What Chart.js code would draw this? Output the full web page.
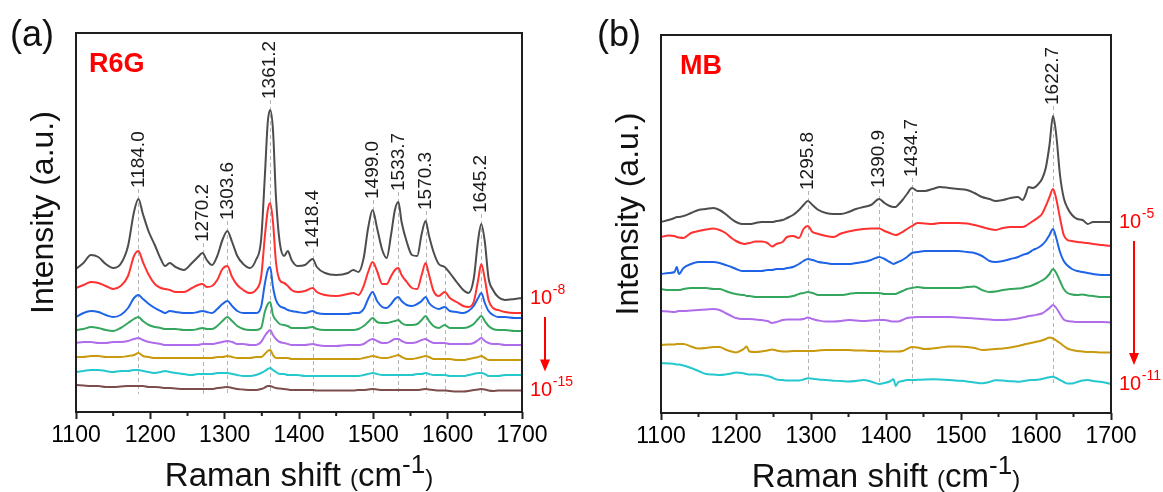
<!DOCTYPE html>
<html>
<head>
<meta charset="utf-8">
<title>SERS spectra - R6G / MB</title>
<script src="https://cdn.jsdelivr.net/npm/chart.js@4.4.1/dist/chart.umd.min.js"></script>
<style>
  html, body { margin: 0; padding: 0; background: #fff; }
  .panel { position: absolute; top: 0; }
  #panelA { left: 0; }
  #panelB { left: 590px; }
</style>
</head>
<body>
<div class="panel" id="panelA"><canvas id="chartA" width="590" height="492"></canvas></div>
<div class="panel" id="panelB"><canvas id="chartB" width="573" height="492"></canvas></div>
<script>
const FONT = "'Liberation Sans', Arial, Helvetica, sans-serif";
Chart.defaults.font.family = FONT;

// ---- R6G, 1e-8 .. 1e-15 M (offset traces, a.u.) ----
const shiftR6G = [
  1100, 1110, 1120, 1130, 1140, 1150, 1160, 1170, 1178, 1184.0,
  1190, 1198, 1206, 1214, 1220, 1226, 1234, 1245, 1256, 1264,
  1270.2, 1276, 1283, 1290, 1297, 1303.6, 1310, 1317, 1325, 1334,
  1342, 1349, 1354, 1358, 1361.2, 1365, 1369, 1374, 1380, 1385,
  1390, 1398, 1408, 1418.4, 1424, 1435, 1450, 1466, 1473, 1480,
  1487, 1493, 1499.0, 1505, 1512, 1518, 1524, 1529, 1533.7, 1538,
  1545, 1552, 1559, 1565, 1570.3, 1575, 1581, 1588, 1596, 1603,
  1612, 1621, 1628, 1635, 1641, 1645.2, 1650, 1655, 1661, 1668,
  1677, 1690, 1700
];
const r6g_1e8 = [
  143, 149, 157, 155, 148, 144, 148, 166, 200, 213,
  198, 180, 167, 153, 146, 149, 145, 142, 149, 155,
  159, 152, 147, 156, 172, 181, 170, 156, 148, 144,
  152, 172, 235, 290, 302, 282, 215, 170, 156, 161,
  152, 146, 147, 153, 145, 139, 137, 139, 142, 140,
  154, 184, 202, 184, 162, 154, 178, 202, 210, 190,
  170, 157, 156, 178, 191, 176, 160, 148, 145, 139,
  130, 122, 119, 133, 172, 188, 170, 134, 122, 115,
  112, 113, 114
];
const r6g_1e9 = [
  124, 127, 130, 129, 126, 123, 126, 136, 156, 161,
  150, 137, 128, 124, 123, 122, 120, 120, 124, 127,
  128, 125, 126, 132, 143, 146, 135, 127, 122, 119,
  122, 135, 175, 202, 209, 190, 150, 132, 129, 126,
  122, 120, 121, 124, 120, 117, 116, 118, 119, 117,
  126, 140, 150, 141, 128, 128, 136, 142, 144, 137,
  130, 124, 123, 137, 149, 137, 121, 116, 120, 114,
  110, 106, 105, 110, 132, 148, 133, 112, 104, 102,
  100, 99, 99
];
const r6g_1e10 = [
  95, 99, 101, 100, 97, 95, 97, 104, 114, 117,
  113, 108, 104, 101, 99, 101, 100, 99, 99, 100,
  101, 100, 99, 103, 108, 111, 106, 101, 99, 99,
  99, 105, 128, 142, 145, 125, 112, 106, 104, 102,
  101, 100, 99, 101, 99, 98, 98, 98, 99, 99,
  103, 113, 120, 111, 105, 104, 108, 113, 115, 111,
  107, 106, 108, 111, 115, 109, 105, 103, 105, 101,
  100, 99, 101, 106, 114, 119, 109, 101, 97, 95,
  95, 94, 94
];
const r6g_1e11 = [
  82, 83, 85, 84, 82, 81, 84, 89, 93, 95,
  91, 87, 85, 84, 83, 83, 83, 82, 82, 83,
  84, 83, 83, 86, 91, 95, 91, 86, 83, 82,
  82, 84, 100, 108, 110, 97, 92, 88, 87, 86,
  84, 84, 84, 85, 83, 82, 82, 82, 82, 83,
  86, 90, 94, 90, 89, 89, 90, 91, 92, 89,
  87, 87, 88, 92, 96, 91, 86, 84, 87, 84,
  84, 84, 85, 88, 93, 96, 91, 86, 83, 82,
  82, 81, 81
];
const r6g_1e12 = [
  69, 70, 70, 69, 69, 70, 70, 71, 73, 74,
  72, 70, 69, 68, 67, 67, 67, 67, 67, 67,
  68, 68, 68, 69, 70, 71, 70, 68, 68, 67,
  67, 70, 76, 80, 82, 77, 73, 70, 69, 68,
  67, 67, 67, 68, 67, 66, 66, 67, 67, 67,
  68, 71, 73, 71, 69, 69, 71, 73, 73, 71,
  69, 69, 70, 72, 73, 71, 69, 69, 69, 68,
  68, 68, 68, 69, 72, 74, 71, 69, 68, 68,
  67, 67, 67
];
const r6g_1e13 = [
  55, 55, 56, 56, 55, 55, 55, 56, 57, 59,
  56, 55, 54, 54, 54, 54, 54, 54, 54, 54,
  54, 54, 54, 55, 55, 56, 55, 54, 54, 54,
  55, 55, 58, 61, 62, 57, 54, 54, 54, 54,
  53, 53, 53, 53, 53, 53, 53, 53, 53, 53,
  54, 55, 56, 55, 54, 54, 55, 56, 57, 55,
  53, 53, 54, 55, 56, 55, 53, 53, 53, 53,
  52, 52, 53, 54, 55, 56, 54, 52, 52, 52,
  52, 52, 52
];
const r6g_1e14 = [
  40, 41, 42, 42, 41, 40, 41, 41, 42, 42,
  41, 40, 39, 40, 41, 40, 39, 38, 37, 38,
  38, 38, 38, 39, 39, 39, 38, 37, 36, 36,
  37, 39, 41, 43, 44, 42, 40, 38, 38, 37,
  37, 37, 36, 36, 36, 36, 36, 36, 36, 36,
  37, 38, 39, 38, 37, 37, 37, 37, 37, 37,
  37, 37, 38, 38, 39, 38, 37, 37, 37, 36,
  36, 36, 37, 38, 39, 39, 38, 36, 36, 36,
  37, 37, 37
];
const r6g_1e15 = [
  27, 26.5, 26, 26, 25, 25, 25.5, 26, 26, 26,
  26, 25, 25, 24.5, 24, 24, 23.5, 23, 23, 23,
  23, 23, 23, 24, 24.5, 25, 24, 23, 22.5, 22,
  22, 23, 24.5, 26, 26, 25, 24, 23.5, 23, 22.5,
  22, 22, 22, 22, 21.5, 21.5, 21.5, 21.5, 21.5, 22,
  22, 22.5, 23, 22.5, 22, 22, 22, 22, 22, 22,
  22, 22, 22, 22.5, 23, 22.5, 22, 21.5, 21.5, 21,
  20.5, 20.5, 21, 22, 22.5, 23, 22.5, 21.5, 21, 21.5,
  21.5, 21.5, 21.5
];
const r6gPeaks = [1184.0, 1270.2, 1303.6, 1361.2, 1418.4, 1499.0, 1533.7, 1570.3, 1645.2];
const r6gPlainGuides = [1596];
const r6gGuideFloor = 18;

// ---- MB, 1e-5 .. 1e-11 M ----
const shiftMB = [
  1100, 1110, 1118, 1121, 1124, 1130, 1140, 1150, 1160, 1170,
  1178, 1186, 1194, 1200, 1208, 1211, 1214, 1218, 1226, 1234,
  1242, 1248, 1254, 1262, 1268, 1276, 1284, 1290, 1295.8, 1302,
  1310, 1320, 1330, 1340, 1350, 1360, 1370, 1380, 1390.9, 1398,
  1405, 1410, 1413, 1416, 1422, 1428, 1434.7, 1442, 1452, 1462,
  1472, 1484, 1496, 1508, 1518, 1528, 1538, 1546, 1556, 1566,
  1576, 1582, 1586, 1590, 1596, 1602, 1608, 1613, 1618, 1622.7,
  1627, 1632, 1637, 1642, 1648, 1655, 1662, 1669, 1676, 1688,
  1700
];
const mb_1e5 = [
  191, 193, 195, 196, 196, 197, 200, 203, 204, 205,
  203, 199, 194, 191, 189, 189, 189, 189, 190, 191,
  191, 191, 192, 193, 195, 198, 203, 208, 212, 208,
  203, 200, 199, 199, 201, 204, 206, 208, 214, 210,
  207, 206, 206, 208, 213, 219, 225, 222, 222, 224,
  226, 225, 224, 223, 220, 216, 214, 212, 213, 215,
  216, 213, 218, 226, 225, 228, 234, 245, 268, 297,
  278, 238, 215, 205, 198, 194, 193, 189, 191, 191,
  191
];
const mb_1e6 = [
  176, 177.5, 177, 176, 175.5, 175, 180, 182, 183.5, 184.5,
  183, 180, 175, 172, 169.5, 169, 169.5, 170, 171.5, 171.5,
  170, 166.5, 169, 171, 176, 177, 175, 184, 187, 181,
  179, 177, 176, 179.5, 181.5, 183, 184, 184.5, 184.5, 182,
  180, 178.5, 178, 178.5, 181, 184, 187, 190, 189.5, 189,
  190, 190, 190, 189.5, 188, 186, 184, 183, 185, 186,
  186, 186, 187, 189, 192, 195, 199, 207, 216, 224,
  214, 195, 178, 173, 172, 171, 170.5, 170, 169, 168,
  167
];
const mb_1e7 = [
  139, 140, 141, 146, 139, 145, 149, 151, 151, 151,
  150, 148, 146, 144, 142, 142, 142, 142, 142, 142,
  143, 143, 144, 144, 145, 146, 149, 152, 154, 153,
  151, 150, 149, 149, 149, 150, 151, 153, 156, 154,
  151, 149, 150, 151, 153, 156, 160, 161, 162, 162,
  162, 162, 162, 161, 160, 157, 152, 151, 152, 154,
  156, 158, 159, 160, 163, 165, 168, 172, 178, 184,
  175, 161, 152, 147.5, 144, 142, 141, 140, 139, 138,
  138
];
const mb_1e8 = [
  124, 123, 123, 123, 123, 124, 125, 125, 125, 124,
  124, 122, 120, 119, 118, 118, 117, 117, 116, 116,
  116, 116, 116, 116, 116, 117, 119, 120, 121, 120,
  118, 118, 118, 118, 119, 120, 120, 120, 120, 119,
  119, 119, 119, 120, 122, 124, 125, 126, 125, 125,
  125, 125, 125, 126, 126.5, 123, 121, 121.5, 123, 124,
  124.5, 125, 126, 126.5, 128, 130, 132.5, 135, 139, 144,
  140, 132, 124, 120, 118.5, 118, 118.5, 117.5, 117, 116,
  116
];
const mb_1e9 = [
  102, 101.5, 101, 101.5, 102, 102, 102.5, 103, 103.5, 104,
  103, 100, 97, 95, 94, 94, 94, 94, 93.5, 93,
  92, 90, 91, 93, 93.5, 93.5, 93.5, 94, 95.5, 94,
  92.5, 91.5, 91.5, 92, 93, 92.5, 92, 92.5, 93, 93,
  92, 91.5, 91.5, 91.5, 93, 95, 95.5, 96, 96, 96,
  96, 96, 95.5, 95, 94.5, 94, 93.5, 93, 93, 93.5,
  94.5, 95.5, 96, 97, 97.5, 98.5, 99.5, 102, 105, 108,
  105, 99, 93.5, 92, 91.5, 91, 91, 91, 91, 91,
  90.5
];
const mb_1e10 = [
  68, 68.5, 68.5, 69, 69, 69, 66.5, 64.5, 65, 66,
  66, 63.5, 61.5, 60.5, 63, 64.5, 66.5, 61.5, 61, 61.5,
  62.5, 63.5, 62.5, 61.5, 61.5, 62, 62, 62, 62, 62,
  62.5, 63, 63, 63, 63, 62.5, 62.5, 62, 62, 61.5,
  61.5, 61.5, 61.5, 61.5, 62, 64, 66, 65.5, 64, 64.5,
  65.5, 66.5, 66.5, 66, 65, 63, 63.5, 64, 64.5, 65.5,
  67, 68, 69, 69.5, 70.5, 71.5, 72.5, 74, 75.5, 74.5,
  72.5, 70, 67, 64.5, 63, 62, 61.5, 61, 61, 60.5,
  60.5
];
const mb_1e11 = [
  50, 49.5, 49, 48.5, 48.5, 47.5, 45, 42, 39, 38.5,
  38, 38.5, 39.5, 40.5, 40, 39.5, 39, 38.5, 38.5, 38,
  37, 35.5, 33.5, 33, 32.5, 32.5, 32.5, 33.5, 34.7, 34.2,
  33.5, 33, 32.3, 32, 31.5, 32, 33, 31.5, 29, 30,
  31.5, 33.7, 27, 30.5, 32, 33, 33, 33.2, 33.5, 33.7,
  33.5, 33, 32.3, 31.5, 30.5, 29.7, 31, 32.8, 32.5, 31.8,
  31.3, 31.8, 32.2, 32.7, 33, 33.2, 34, 35, 35.8, 36.3,
  35, 33, 31, 29.5, 29.5, 31, 32.5, 33, 32, 31,
  29
];
const mbPeaks = [1295.8, 1390.9, 1434.7, 1622.7];
const mbGuideFloor = 29;

const traceColors = ['#4d4d4d', '#ff3131', '#1f63e6', '#35a65e', '#b06deb', '#c99a0e', '#24c8cd', '#7c4d4b'];

function buildTraces(shift, series) {
  return series.map((vals, i) => ({
    data: shift.map((x, j) => ({ x, y: vals[j] })),
    borderColor: traceColors[i],
    borderWidth: 2,
    pointRadius: 0,
    cubicInterpolationMode: 'monotone',
    fill: false
  }));
}

function drawPower(ctx, x, yMid, exp) {
  ctx.font = `20px ${FONT}`;
  ctx.textAlign = 'left';
  ctx.textBaseline = 'middle';
  ctx.fillText('10', x, yMid);
  const w = ctx.measureText('10').width;
  ctx.font = `14px ${FONT}`;
  ctx.fillText(exp, x + w + 0.5, yMid - 8);
}

// guide lines, peak labels, frame, titles and concentration markers
const spectraDecor = {
  id: 'spectraDecor',
  beforeDatasetsDraw(chart, args, o) {
    const { ctx, scales: { x, y } } = chart;
    const top = chart.data.datasets[0].data;
    const valueAt = wn => top.find(p => p.x === wn).y;
    const guides = o.peaks.map(wn => [wn, y.getPixelForValue(valueAt(wn)) - o.labelGap])
      .concat(o.plainGuides.map(wn => [wn, y.getPixelForValue(valueAt(wn))]));
    ctx.save();
    ctx.strokeStyle = '#b5b5b5';
    ctx.lineWidth = 1;
    ctx.setLineDash([4, 3]);
    guides.forEach(([wn, py]) => {
      const px = Math.round(x.getPixelForValue(wn)) + 0.5;
      ctx.beginPath();
      ctx.moveTo(px, py);
      ctx.lineTo(px, y.getPixelForValue(o.floor));
      ctx.stroke();
    });
    ctx.restore();
  },
  afterDraw(chart, args, o) {
    const { ctx, chartArea: area, scales: { x, y } } = chart;
    const sets = chart.data.datasets;
    const top = sets[0].data;
    const valueAt = wn => top.find(p => p.x === wn).y;
    ctx.save();

    // frame
    ctx.strokeStyle = '#1e1e1e';
    ctx.lineWidth = 2;
    ctx.strokeRect(area.left, area.top, area.right - area.left, area.bottom - area.top);

    // minor ticks
    for (let v = x.min + 50; v < x.max; v += 100) {
      const px = x.getPixelForValue(v);
      ctx.beginPath();
      ctx.moveTo(px, area.bottom);
      ctx.lineTo(px, area.bottom + 4);
      ctx.stroke();
    }

    // peak labels
    ctx.fillStyle = '#1a1a1a';
    ctx.font = `19px ${FONT}`;
    o.peaks.forEach(wn => {
      const px = x.getPixelForValue(wn);
      const py = y.getPixelForValue(valueAt(wn)) - o.labelGap - 1;
      ctx.save();
      ctx.translate(px, py);
      ctx.rotate(-Math.PI / 2);
      ctx.textAlign = 'left';
      ctx.textBaseline = 'middle';
      ctx.fillText(wn.toFixed(1), 0, 0);
      ctx.restore();
    });

    // panel letter and analyte
    ctx.fillStyle = '#111';
    ctx.font = `36px ${FONT}`;
    ctx.textAlign = 'left';
    ctx.textBaseline = 'alphabetic';
    ctx.fillText(o.letter, area.left + o.letterDx, 46);
    ctx.fillStyle = '#ff0000';
    ctx.font = `bold 27px ${FONT}`;
    ctx.fillText(o.analyte, area.left + o.analyteDx, area.top + 39);

    // y title
    ctx.fillStyle = '#111';
    ctx.save();
    ctx.translate(area.left - 32, (area.top + area.bottom) / 2 - 10);
    ctx.rotate(-Math.PI / 2);
    ctx.font = `32px ${FONT}`;
    ctx.textAlign = 'center';
    ctx.textBaseline = 'middle';
    ctx.fillText('Intensity (a.u.)', 0, 0);
    ctx.restore();

    // x title with superscript
    const parts = [
      ['Raman shift ', 33, 0], ['(', 24, 0], ['cm', 33, 0], ['-1', 26, 13], [')', 24, 0]
    ];
    let total = 0;
    parts.forEach(([t, s]) => { ctx.font = `${s}px ${FONT}`; total += ctx.measureText(t).width; });
    let cx = (area.left + area.right) / 2 - total / 2;
    const base = area.bottom + 74;
    ctx.textAlign = 'left';
    ctx.textBaseline = 'alphabetic';
    parts.forEach(([t, s, rise]) => {
      ctx.font = `${s}px ${FONT}`;
      ctx.fillText(t, cx, base - rise);
      cx += ctx.measureText(t).width;
    });

    // concentration range
    const first = sets[0].data, last = sets[sets.length - 1].data;
    const yHi = y.getPixelForValue(first[first.length - 1].y);
    const yLo = y.getPixelForValue(last[last.length - 1].y);
    const lx = area.right + 8;
    ctx.fillStyle = '#ff0000';
    drawPower(ctx, lx, yHi, o.highExp);
    drawPower(ctx, lx, yLo, o.lowExp);
    const ax = lx + 15, a0 = yHi + 19, a1 = yLo - 19;
    ctx.strokeStyle = '#ff0000';
    ctx.lineWidth = 2;
    ctx.beginPath();
    ctx.moveTo(ax, a0);
    ctx.lineTo(ax, a1 - 10);
    ctx.stroke();
    ctx.beginPath();
    ctx.moveTo(ax - 5, a1 - 12);
    ctx.lineTo(ax + 5, a1 - 12);
    ctx.lineTo(ax, a1);
    ctx.closePath();
    ctx.fill();

    ctx.restore();
  }
};

function makeChart(id, shift, series, yMax, pad, decor) {
  return new Chart(document.getElementById(id), {
    type: 'line',
    data: { datasets: buildTraces(shift, series) },
    options: {
      responsive: false,
      animation: false,
      events: [],
      layout: { padding: { left: pad.left, top: pad.top, right: pad.right, bottom: 0 } },
      scales: {
        x: {
          type: 'linear',
          min: 1100,
          max: 1700,
          ticks: {
            stepSize: 100, autoSkip: false, maxRotation: 0, color: '#000',
            font: { size: 23 }, padding: 3, callback: v => String(v)
          },
          grid: { drawOnChartArea: false, drawTicks: true, tickLength: 7, tickWidth: 2, tickColor: '#1e1e1e' },
          border: { display: false },
          afterFit: scale => { scale.height = pad.axis; }
        },
        y: { display: false, min: 0, max: yMax }
      },
      plugins: { legend: { display: false }, tooltip: { enabled: false }, spectraDecor: decor }
    },
    plugins: [spectraDecor]
  });
}

makeChart('chartA', shiftR6G,
  [r6g_1e8, r6g_1e9, r6g_1e10, r6g_1e11, r6g_1e12, r6g_1e13, r6g_1e14, r6g_1e15],
  379, { left: 76, top: 33, right: 68, axis: 80 },
  { peaks: r6gPeaks, plainGuides: r6gPlainGuides, floor: r6gGuideFloor, labelGap: 10,
    letter: '(a)', letterDx: -66, analyte: 'R6G', analyteDx: 13, highExp: '-8', lowExp: '-15' });

makeChart('chartB', shiftMB,
  [mb_1e5, mb_1e6, mb_1e7, mb_1e8, mb_1e9, mb_1e10, mb_1e11],
  378, { left: 71, top: 35, right: 52, axis: 79 },
  { peaks: mbPeaks, plainGuides: [], floor: mbGuideFloor, labelGap: 10,
    letter: '(b)', letterDx: -64, analyte: 'MB', analyteDx: 19, highExp: '-5', lowExp: '-11' });
</script>
</body>
</html>
